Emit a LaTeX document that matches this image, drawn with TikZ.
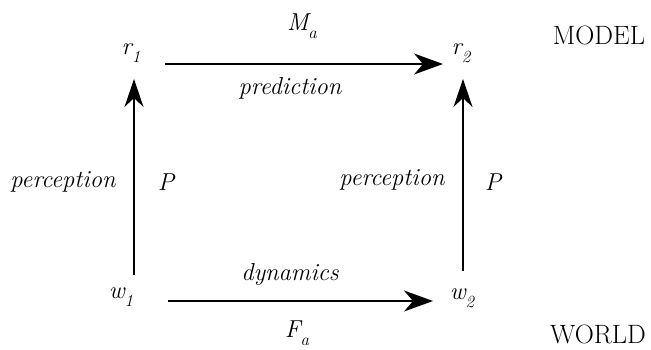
\documentclass[tikz,border=0pt]{standalone}
\usepackage{fontspec}
\usetikzlibrary{arrows.meta}
\newcommand{\lowsub}[1]{\raisebox{-0.32em}{\fontsize{17}{17}\selectfont #1}}
\begin{document}
\begin{tikzpicture}[x=1pt,y=-1pt,
  lbl/.style={font=\fontsize{24.5}{26}\selectfont\itshape, inner sep=0pt},
  caplbl/.style={font=\fontsize{26.5}{28}\selectfont, inner sep=0pt},
  arr/.style={line width=1.8pt, -{Stealth[length=29pt,width=21pt,inset=9pt]}},
  vln/.style={line width=1.6pt, -{Stealth[length=28pt,width=19pt,inset=9pt]}}]
\useasboundingbox (0,0) rectangle (651,349);
\node[lbl] (r1) at (131,53) {r\lowsub{1}};
\node[lbl] (r2) at (461,53) {r\lowsub{2}};
\node[lbl] (w1) at (121,297) {w\lowsub{1}};
\node[lbl] (w2) at (462,298) {w\lowsub{2}};
\coordinate (ta) at (165,64);
\coordinate (tb) at (443,64);
\coordinate (ba) at (168,301);
\coordinate (bb) at (433,301);
\coordinate (la) at (134,275);
\coordinate (lb) at (134,79);
\coordinate (ra) at (463,271);
\coordinate (rb) at (463,79);
\draw[arr] (ta) -- (tb);
\draw[arr] (ba) -- (bb);
\draw[vln] (la) -- (lb);
\draw[vln] (ra) -- (rb);
\node[lbl] (ma) at (302,26) {M\lowsub{a}};
\node[lbl] (pred) at (290,88) {prediction};
\node[lbl] (dyn) at (290,274) {dynamics};
\node[lbl] (fa) at (297,333) {F\lowsub{a}};
\node[lbl] (pl) at (63,182) {perception};
\node[lbl] (Pl) at (166,182) {P};
\node[lbl] (pr) at (392,180) {perception};
\node[lbl] (Pr) at (493,182) {P};
\node[caplbl] (model) at (599,35) {MODEL};
\node[caplbl] (world) at (598,334) {WORLD};
\end{tikzpicture}
\end{document}
